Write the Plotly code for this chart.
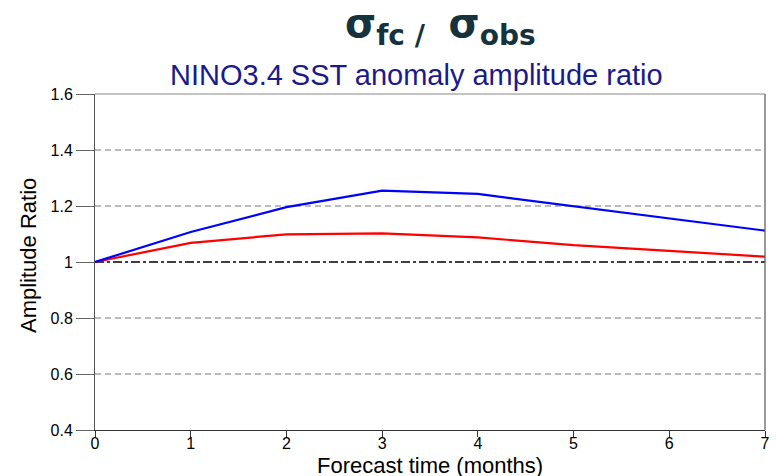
import plotly.graph_objects as go

# Forecast lead time (months)
lead_months = [0, 1, 2, 3, 4, 5, 6, 7]

# Amplitude ratio sigma_fc / sigma_obs for the two forecast systems
ratio_blue = [1.0, 1.107, 1.196, 1.255, 1.243, 1.200, 1.155, 1.112]
ratio_red = [1.0, 1.068, 1.099, 1.102, 1.088, 1.060, 1.040, 1.019]

# Reference ratio (perfect amplitude)
ratio_ref = [1.0] * len(lead_months)

y_ticks = [0.4, 0.6, 0.8, 1.0, 1.2, 1.4, 1.6]
y_tick_text = ["0.4", "0.6", "0.8", "1", "1.2", "1.4", "1.6"]
dashed_levels = [0.6, 0.8, 1.2, 1.4]

fig = go.Figure()

# dashed horizontal guide lines
for lvl in dashed_levels:
    fig.add_trace(go.Scatter(
        x=[lead_months[0], lead_months[-1]], y=[lvl, lvl], mode="lines",
        line=dict(color="#7a7a7a", width=1.2, dash="6px,4px"),
        hoverinfo="skip", showlegend=False))

fig.add_trace(go.Scatter(
    x=lead_months, y=ratio_ref, mode="lines",
    line=dict(color="black", width=1.5, dash="dashdot"),
    showlegend=False))
fig.add_trace(go.Scatter(
    x=lead_months, y=ratio_red, mode="lines",
    line=dict(color="#ff0000", width=2.2),
    showlegend=False))
fig.add_trace(go.Scatter(
    x=lead_months, y=ratio_blue, mode="lines",
    line=dict(color="#0000ff", width=2.2),
    showlegend=False))

font_family = "Liberation Sans, Arial, sans-serif"
plot_w = 776 - 95 - 11
plot_h = 476 - 94 - 46

fig.update_layout(
    width=776, height=476,
    margin=dict(l=95, r=11, t=94, b=46),
    paper_bgcolor="white", plot_bgcolor="white",
    font=dict(family=font_family, color="black"),
    xaxis=dict(
        range=[0, 7], tickmode="array", tickvals=lead_months,
        ticks="outside", ticklen=6, tickcolor="#333", tickwidth=1,
        tickfont=dict(size=16, color="black"), ticklabelstandoff=-7,
        showgrid=False, zeroline=False, automargin=False,
        showline=True, linecolor="#333", linewidth=1,
    ),
    yaxis=dict(
        range=[0.4, 1.6], tickmode="array", tickvals=y_ticks, ticktext=y_tick_text,
        ticks="outside", ticklen=18, tickcolor="#666", tickwidth=1,
        tickfont=dict(size=16, color="black"),
        showgrid=False, zeroline=False, automargin=False,
        showline=True, linecolor="#555", linewidth=1,
    ),
    shapes=[
        # top and right frame
        dict(type="line", xref="paper", yref="paper", x0=0, x1=1, y0=1, y1=1,
             line=dict(color="#888", width=1.2)),
        dict(type="line", xref="paper", yref="paper", x0=1, x1=1, y0=0, y1=1,
             line=dict(color="#555", width=1.2)),
    ],
    annotations=[
        dict(text="<b>σ<sub>fc /&nbsp;</sub>&nbsp;σ<sub>obs</sub></b>",
             xref="paper", yref="paper", x=(440 - 95) / plot_w, y=1 + 68 / plot_h,
             xanchor="center", yanchor="middle", showarrow=False,
             font=dict(size=40, color="#16323c", family="DejaVu Sans, sans-serif")),
        dict(text="NINO3.4 SST anomaly amplitude ratio",
             xref="paper", yref="paper", x=(416 - 95) / plot_w, y=1 + 19 / plot_h,
             xanchor="center", yanchor="middle", showarrow=False,
             font=dict(size=29, color="#1a1a8a", family=font_family)),
        dict(text="Forecast time (months)",
             xref="paper", yref="paper", x=(430 - 95) / plot_w, y=-35 / plot_h,
             xanchor="center", yanchor="middle", showarrow=False,
             font=dict(size=22, color="black", family=font_family)),
        dict(text="Amplitude Ratio", textangle=-90,
             xref="paper", yref="paper", x=-66 / plot_w, y=(430 - 256) / plot_h,
             xanchor="center", yanchor="middle", showarrow=False,
             font=dict(size=22, color="black", family=font_family)),
    ],
)

fig.write_html("out.html")
